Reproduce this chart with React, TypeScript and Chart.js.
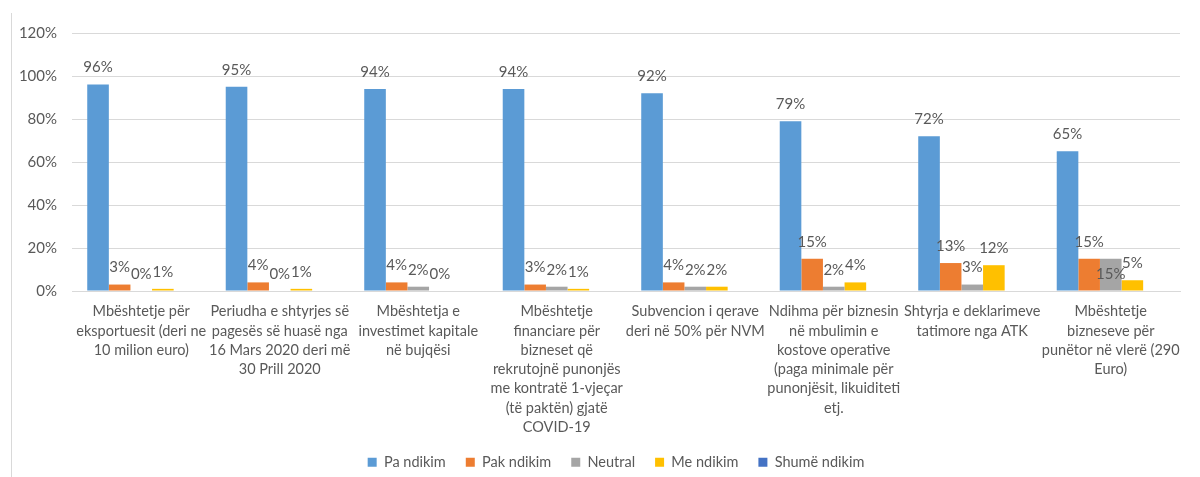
import React, { useEffect, useRef } from "react";
import { Chart, registerables } from "chart.js";

Chart.register(...registerables);

const categories: string[][] = [
  ["Mbështetje për", "eksportuesit (deri ne", "10 milion euro)"],
  ["Periudha e shtyrjes së", "pagesës së huasë nga", "16 Mars 2020 deri më", "30 Prill 2020"],
  ["Mbështetja e", "investimet kapitale", "në bujqësi"],
  ["Mbështetje", "financiare për", "bizneset që", "rekrutojnë punonjës", "me kontratë 1-vjeçar", "(të paktën) gjatë", "COVID-19"],
  ["Subvencion i qerave", "deri në 50% për NVM"],
  ["Ndihma për biznesin", "në mbulimin e", "kostove operative", "(paga minimale për", "punonjësit, likuiditeti", "etj."],
  ["Shtyrja e deklarimeve", "tatimore nga ATK"],
  ["Mbështetje", "bizneseve për", "punëtor në vlerë (290", "Euro)"],
];

const seriesNames = ["Pa ndikim", "Pak ndikim", "Neutral", "Me ndikim", "Shumë ndikim"];
const paNdikim = [96, 95, 94, 94, 92, 79, 72, 65];
const pakNdikim = [3, 4, 4, 3, 4, 15, 13, 15];
const neutral = [0, 0, 2, 2, 2, 2, 3, 15];
const meNdikim = [1, 1, 0, 1, 2, 4, 12, 5];
const shumeNdikim: (number | null)[] = [null, null, null, null, null, null, null, null];
const yTicks = [0, 20, 40, 60, 80, 100, 120];

const colors = ["#5B9BD5", "#ED7D31", "#A5A5A5", "#FFC000", "#4472C4"];
const FONT = "Lato, 'Liberation Sans', sans-serif";
const TEXT = "#595959";

const dataLabelPlugin = {
  id: "dataLabels",
  afterDatasetsDraw(chart: any) {
    const ctx = chart.ctx;
    ctx.save();
    ctx.font = `15px ${FONT}`;
    ctx.fillStyle = TEXT;
    ctx.textAlign = "center";
    ctx.textBaseline = "middle";
    chart.data.datasets.forEach((ds: any, di: number) => {
      const meta = chart.getDatasetMeta(di);
      ds.data.forEach((v: any, i: number) => {
        if (v === null || v === undefined) return;
        const bar: any = meta.data[i];
        let y = bar.y - 17;
        if (di === 2 && i === 7) y = bar.base - 16;
        ctx.fillText(`${v}%`, bar.x, y);
      });
    });
    ctx.restore();
  },
};

const framePlugin = {
  id: "frame",
  afterLayout(chart: any) {
    const lg = chart.legend;
    if (lg) {
      lg.left += 52;
      lg.top -= 12;
    }
  },
  beforeDraw(chart: any) {
    const ctx = chart.ctx;
    ctx.save();
    ctx.strokeStyle = "#D9D9D9";
    ctx.lineWidth = 1;
    ctx.beginPath();
    ctx.moveTo(11.5, 13);
    ctx.lineTo(11.5, chart.height);
    ctx.stroke();
    ctx.restore();
  },
};

export default function App() {
  const ref = useRef<HTMLCanvasElement | null>(null);
  useEffect(() => {
    document.body.style.margin = "0";
    const series = [paNdikim, pakNdikim, neutral, meNdikim, shumeNdikim];
    const chart = new Chart(ref.current as HTMLCanvasElement, {
      type: "bar",
      data: {
        labels: categories,
        datasets: series.map((d, i) => ({
          label: seriesNames[i],
          data: d,
          backgroundColor: colors[i],
          borderWidth: 0,
          categoryPercentage: 0.78,
          barPercentage: 1,
        })),
      },
      options: {
        animation: false,
        responsive: false,
        maintainAspectRatio: false,
        layout: { padding: { top: 33, right: 20, left: 0, bottom: 0 } },
        plugins: {
          tooltip: { enabled: false },
          legend: {
            position: "bottom",
            maxHeight: 30,
            labels: {
              boxWidth: 9,
              boxHeight: 9,
              padding: 20,
              color: TEXT,
              font: { family: FONT, size: 14.5 },
            },
          },
        },
        scales: {
          x: {
            grid: { display: false, drawTicks: false },
            border: { color: "#D9D9D9" },
            ticks: {
              color: TEXT,
              font: { family: FONT, size: 14.5, lineHeight: 1.33 },
              padding: 11,
              maxRotation: 0,
              autoSkip: false,
            },
            afterFit(scale: any) {
              scale.height = 156;
            },
          },
          y: {
            min: 0,
            max: 120,
            afterBuildTicks(scale: any) {
              scale.ticks = yTicks.map((v) => ({ value: v }));
            },
            grid: { color: "#D9D9D9", drawTicks: false },
            border: { display: false },
            ticks: {
              color: TEXT,
              font: { family: FONT, size: 15 },
              padding: 15,
              callback: (v: any) => `${v}%`,
            },
            afterFit(scale: any) {
              scale.width = 72;
            },
          },
        },
      },
      plugins: [dataLabelPlugin, framePlugin],
    });
    return () => chart.destroy();
  }, []);
  return <canvas ref={ref} width={1200} height={477} style={{ display: "block" }} />;
}
